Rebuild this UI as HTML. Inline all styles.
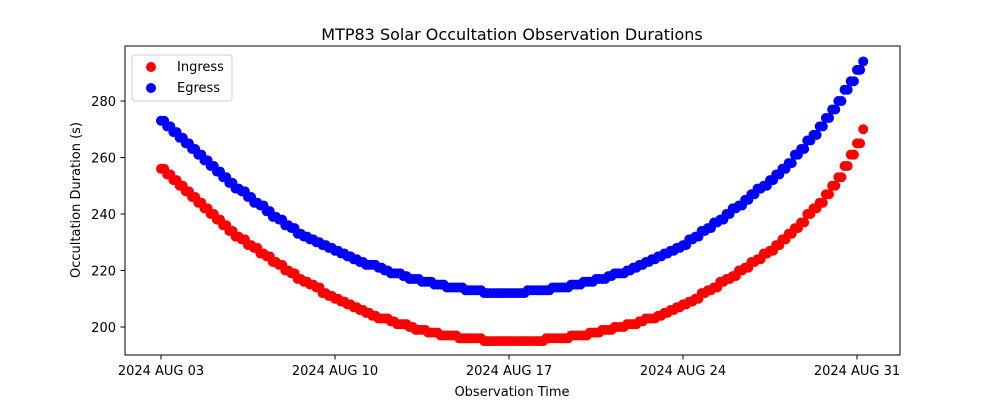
<!DOCTYPE html>
<html><head><meta charset="utf-8"><style>
body{margin:0;background:#fff;font-family:"Liberation Sans","DejaVu Sans",sans-serif}
svg text{font-family:"DejaVu Sans","Liberation Sans",sans-serif}
</style></head><body>
<svg id="chart" width="1000" height="400" xmlns="http://www.w3.org/2000/svg">
<rect width="1000" height="400" fill="#fff"/>
<text x="512" y="40" font-size="16" text-anchor="middle">MTP83 Solar Occultation Observation Durations</text>
<g id="marks"></g>
<rect x="125" y="46" width="775" height="309" fill="none" stroke="#000" stroke-width="1"/>
<g id="axes"></g>
<text x="512" y="396" font-size="13" text-anchor="middle">Observation Time</text>
<text transform="translate(80,200) rotate(-90)" font-size="13" text-anchor="middle">Occultation Duration (s)</text>
<g>
<rect x="132" y="55" width="100" height="46" rx="3" fill="#fff" fill-opacity="0.8" stroke="#ccc"/>
<circle cx="151" cy="67" r="5" fill="#f00"/>
<text x="177" y="71" font-size="13">Ingress</text>
<circle cx="151" cy="88" r="5" fill="#00f"/>
<text x="177" y="92" font-size="13">Egress</text>
</g>
</svg>
<script>
const dayStep = 0.25;
const xTickDays = [0, 7, 14, 21, 28];
const xTickLabels = ["2024 AUG 03", "2024 AUG 10", "2024 AUG 17", "2024 AUG 24", "2024 AUG 31"];
const yTicks = [200, 220, 240, 260, 280];
const ingress = [256,254,252,250,248,246,244,242,240,238,236,
234,232,231,229,228,226,225,223,222,220,219,
217,216,215,214,212,211,210,209,208,207,
206,205,204,203,203,202,201,201,200,199,199,
198,198,197,197,197,196,196,196,196,195,195,
195,195,195,195,195,195,195,195,196,196,196,196,197,
197,197,198,198,199,199,200,200,201,201,202,
203,203,204,205,206,207,208,209,210,212,213,
214,216,217,218,220,221,223,224,226,227,229,
231,233,235,237,240,242,244,247,
250,253,257,261,265,270];
const egress = [273,271,269,267,265,263,261,259,257,255,253,
251,249,248,246,244,243,241,239,238,236,235,
233,232,231,230,229,228,227,226,225,224,
223,222,222,221,220,219,219,218,217,217,216,
216,215,215,214,214,214,213,213,213,212,212,
212,212,212,212,212,213,213,213,213,214,214,214,215,
215,216,216,217,217,218,219,219,220,221,222,
223,224,225,226,227,228,229,231,232,234,235,
237,238,240,242,243,245,247,249,250,252,254,
256,258,261,263,266,268,271,274,
277,280,284,287,291,294];

const NS = "http://www.w3.org/2000/svg";
const xScale = d => 161 + d * (696 / 28);
const yScale = v => 327 - (v - 200) * (226 / 80);
const marks = document.getElementById("marks");
const axes = document.getElementById("axes");

function drawSeries(vals, color, name) {
  const g = document.createElementNS(NS, "g");
  
  
  vals.forEach((v, i) => {
    const n = (i === vals.length - 1) ? 1 : 2;
    for (let k = 0; k < n; k++) {
      const c = document.createElementNS(NS, "circle");
      
      
      c.setAttribute("cx", xScale(i * dayStep + k * dayStep / 2));
      c.setAttribute("cy", yScale(v));
      c.setAttribute("r", 5);
      c.setAttribute("fill", color);
      g.appendChild(c);
    }
  });
  marks.appendChild(g);
}
drawSeries(ingress, "#f00", "ingress");
drawSeries(egress, "#00f", "egress");

xTickDays.forEach((d, i) => {
  const x = xScale(d);
  const l = document.createElementNS(NS, "line");
  
  
  l.setAttribute("x1", x); l.setAttribute("x2", x);
  l.setAttribute("y1", 355); l.setAttribute("y2", 359.5);
  l.setAttribute("stroke", "#000");
  axes.appendChild(l);
  const t = document.createElementNS(NS, "text");
  
  
  t.setAttribute("x", x); t.setAttribute("y", 375);
  t.setAttribute("font-size", "13");
  t.setAttribute("text-anchor", "middle");
  t.textContent = xTickLabels[i];
  axes.appendChild(t);
});
yTicks.forEach(v => {
  const y = yScale(v);
  const l = document.createElementNS(NS, "line");
  
  
  l.setAttribute("x1", 120.5); l.setAttribute("x2", 125);
  l.setAttribute("y1", y); l.setAttribute("y2", y);
  l.setAttribute("stroke", "#000");
  axes.appendChild(l);
  const t = document.createElementNS(NS, "text");
  
  
  t.setAttribute("x", 116); t.setAttribute("y", y + 5);
  t.setAttribute("font-size", "13");
  t.setAttribute("text-anchor", "end");
  t.textContent = v;
  axes.appendChild(t);
});
</script>
</body></html>
